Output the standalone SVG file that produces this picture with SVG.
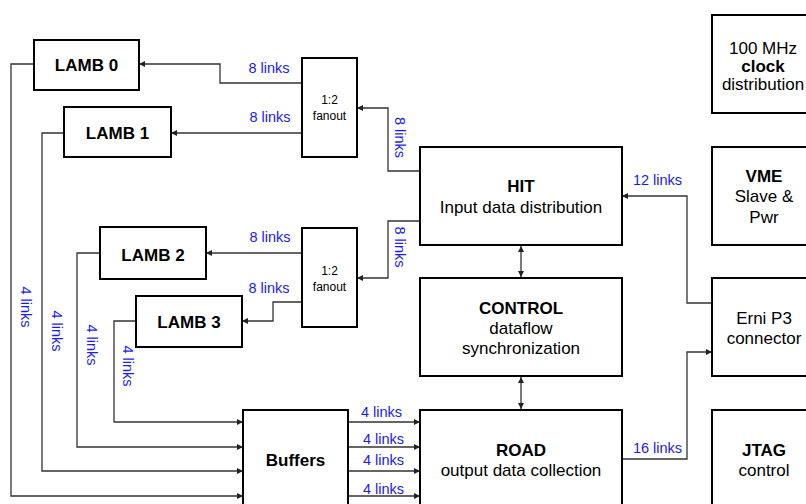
<svg xmlns="http://www.w3.org/2000/svg" width="806" height="504" viewBox="0 0 806 504">
<style>
.box{fill:#fff;stroke:#000;stroke-width:2}
.t{font-family:"Liberation Sans",Arial,sans-serif;font-size:17px;fill:#000;text-anchor:middle}
.b{font-weight:bold}
.f{font-family:"Liberation Sans",Arial,sans-serif;font-size:12px;fill:#000;text-anchor:middle}
.l{font-family:"Liberation Sans",Arial,sans-serif;font-size:14.5px;fill:#1a1aff;text-anchor:middle}
.c{fill:none;stroke:#333;stroke-width:1.3}
</style>
<defs>
<marker id="ah" viewBox="0 0 8 8" refX="8" refY="4" markerWidth="6" markerHeight="6" markerUnits="userSpaceOnUse" orient="auto-start-reverse">
<path d="M0,0 L8,4 L0,8 z" fill="#222"/>
</marker>
</defs>
<rect width="806" height="504" fill="#fff"/>
<g id="connectors">
<path class="c" d="M302,83 H220 V64 H139" marker-end="url(#ah)"/>
<path class="c" d="M302,133 H171" marker-end="url(#ah)"/>
<path class="c" d="M420,171 H388 V108 H357" marker-end="url(#ah)"/>
<path class="c" d="M302,253 H206" marker-end="url(#ah)"/>
<path class="c" d="M302,302 H273 V321 H242" marker-end="url(#ah)"/>
<path class="c" d="M420,221 H388 V278 H357" marker-end="url(#ah)"/>
<path class="c" d="M34,64 H11 V496 H243" marker-end="url(#ah)"/>
<path class="c" d="M64,133 H42 V471 H243" marker-end="url(#ah)"/>
<path class="c" d="M100,253 H77 V447 H243" marker-end="url(#ah)"/>
<path class="c" d="M136,321 H114 V422 H243" marker-end="url(#ah)"/>
<path class="c" d="M348,422 H420" marker-end="url(#ah)"/>
<path class="c" d="M348,447 H420" marker-end="url(#ah)"/>
<path class="c" d="M348,471 H420" marker-end="url(#ah)"/>
<path class="c" d="M348,496 H420" marker-end="url(#ah)"/>
<path class="c" d="M521,246 V277" marker-start="url(#ah)" marker-end="url(#ah)"/>
<path class="c" d="M521,377 V409" marker-start="url(#ah)" marker-end="url(#ah)"/>
<path class="c" d="M712,303 H687 V196 H622" marker-end="url(#ah)"/>
<path class="c" d="M622,459 H687 V352 H712" marker-end="url(#ah)"/>
</g>
<g id="labels">
<text class="l" x="269" y="73">8 links</text>
<text class="l" x="270" y="122">8 links</text>
<text class="l" x="270" y="242">8 links</text>
<text class="l" x="269" y="293">8 links</text>
<text class="l" transform="translate(395,137.5) rotate(90)">8 links</text>
<text class="l" transform="translate(395,247) rotate(90)">8 links</text>
<text class="l" transform="translate(21,307) rotate(90)">4 links</text>
<text class="l" transform="translate(52,331) rotate(90)">4 links</text>
<text class="l" transform="translate(87,345) rotate(90)">4 links</text>
<text class="l" transform="translate(123,366) rotate(90)">4 links</text>
<text class="l" x="381.5" y="417">4 links</text>
<text class="l" x="383.5" y="444">4 links</text>
<text class="l" x="383.5" y="465">4 links</text>
<text class="l" x="383.5" y="494">4 links</text>
<text class="l" x="657.5" y="185">12 links</text>
<text class="l" x="657.5" y="453">16 links</text>
</g>
<g id="lamb0"><rect class="box" x="34" y="40" width="105" height="50"/><text class="t b" x="86.5" y="71">LAMB 0</text></g>
<g id="lamb1"><rect class="box" x="64" y="107" width="107" height="50"/><text class="t b" x="117.5" y="139">LAMB 1</text></g>
<g id="lamb2"><rect class="box" x="100" y="227" width="106" height="52"/><text class="t b" x="153" y="261">LAMB 2</text></g>
<g id="lamb3"><rect class="box" x="136" y="296" width="106" height="51"/><text class="t b" x="189" y="328">LAMB 3</text></g>
<g id="fanout1"><rect class="box" x="302" y="58" width="55" height="99"/><text class="f" x="329.5" y="104">1:2</text><text class="f" x="329.5" y="120">fanout</text></g>
<g id="fanout2"><rect class="box" x="302" y="228" width="55" height="99"/><text class="f" x="329.5" y="275">1:2</text><text class="f" x="329.5" y="291">fanout</text></g>
<g id="buffers"><rect class="box" x="243" y="410" width="105" height="100"/><text class="t b" x="295.5" y="466">Buffers</text></g>
<g id="hit"><rect class="box" x="420" y="147" width="202" height="98"/><text class="t b" x="521" y="192">HIT</text><text class="t" x="521" y="213">Input data distribution</text></g>
<g id="control"><rect class="box" x="420" y="278" width="202" height="98"/><text class="t b" x="521" y="314">CONTROL</text><text class="t" x="521" y="334">dataflow</text><text class="t" x="521" y="354">synchronization</text></g>
<g id="road"><rect class="box" x="420" y="410" width="202" height="100"/><text class="t b" x="521" y="456">ROAD</text><text class="t" x="521" y="476">output data collection</text></g>
<g id="clock"><rect class="box" x="712" y="15" width="100" height="98"/><text class="t" x="763" y="54">100 MHz</text><text class="t b" x="763" y="72">clock</text><text class="t" x="763" y="90">distribution</text></g>
<g id="vme"><rect class="box" x="712" y="147" width="100" height="98"/><text class="t b" x="764" y="182">VME</text><text class="t" x="764" y="202">Slave &amp;</text><text class="t" x="764" y="223">Pwr</text></g>
<g id="erni"><rect class="box" x="712" y="278" width="100" height="98"/><text class="t" x="764" y="324">Erni P3</text><text class="t" x="764" y="344">connector</text></g>
<g id="jtag"><rect class="box" x="712" y="410" width="100" height="100"/><text class="t b" x="764" y="456">JTAG</text><text class="t" x="764" y="476">control</text></g>
</svg>
